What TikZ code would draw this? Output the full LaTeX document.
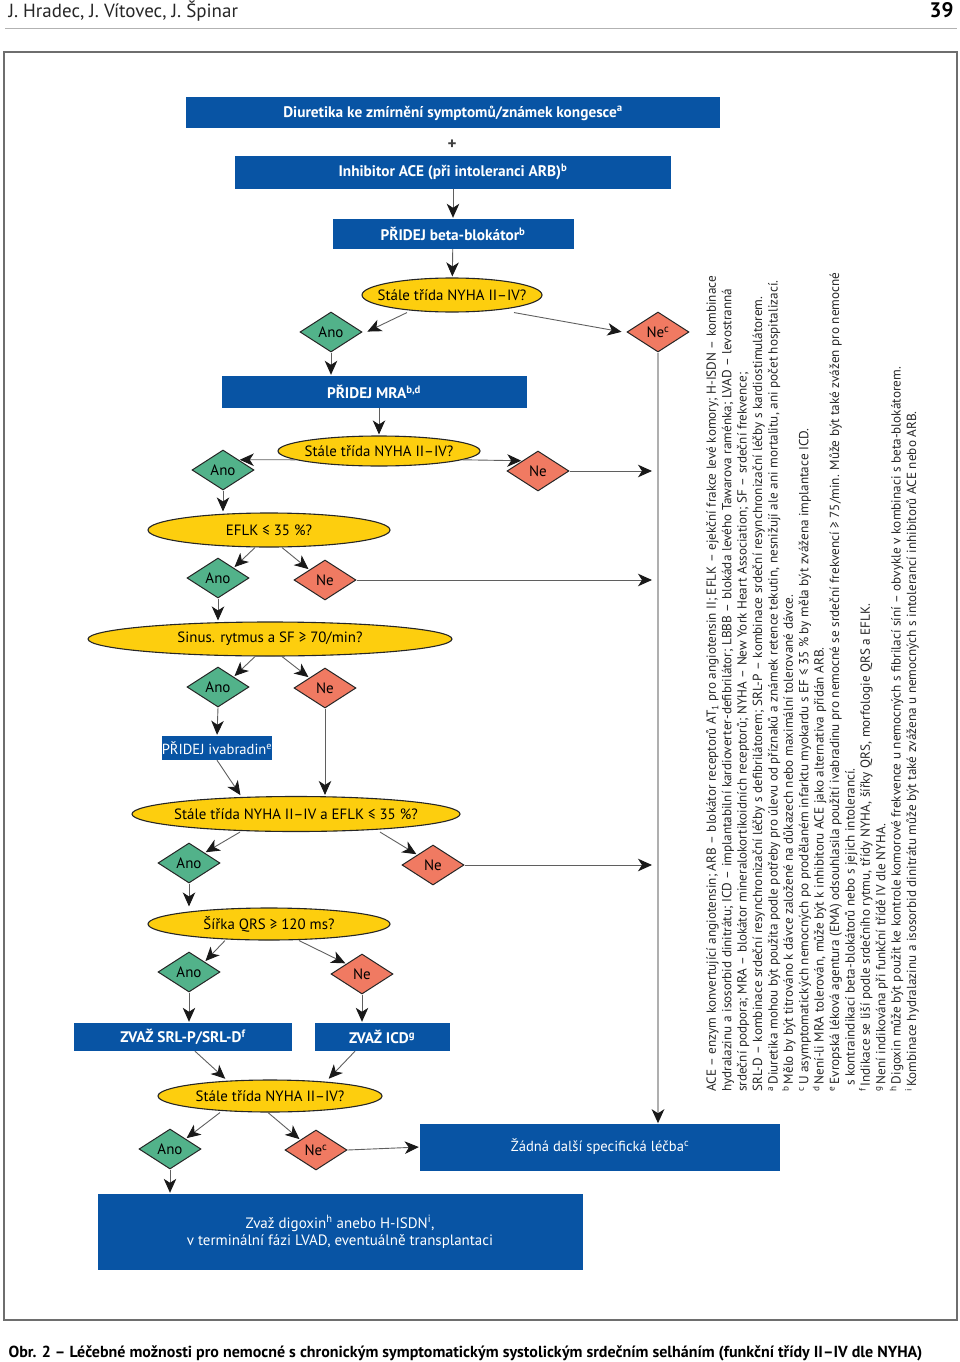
\documentclass[tikz,border=0pt]{standalone}
\usepackage{fontspec}
\setmainfont{PT Sans}
\usetikzlibrary{shapes.geometric,arrows.meta}
\definecolor{boxblue}{RGB}{8,84,164}
\definecolor{askyellow}{RGB}{253,206,14}
\definecolor{anogreen}{RGB}{82,178,138}
\definecolor{nered}{RGB}{240,122,98}
\definecolor{linegray}{RGB}{95,95,95}
\definecolor{railgray}{RGB}{175,175,175}
\definecolor{framegray}{RGB}{110,110,110}

\begin{document}
\begin{tikzpicture}[x=1pt, y=-1pt,
    box/.style={rectangle, fill=boxblue, text=white, inner sep=0pt, font=\fontsize{15.3}{17}\selectfont\bfseries},
    boxlight/.style={box, font=\fontsize{14.6}{17.5}\selectfont},
    ask/.style={ellipse, draw=black!85, line width=1.1pt, fill=askyellow, inner xsep=-40pt, inner ysep=0pt, font=\fontsize{14.9}{17}\selectfont},
    anodia/.style={diamond, draw=black!85, line width=1pt, fill=anogreen, minimum width=62pt, minimum height=40pt, inner sep=0pt, font=\fontsize{15}{17}\selectfont},
    nedia/.style={anodia, fill=nered},
    msg/.style={-{Stealth[length=14pt,width=12.5pt,inset=4pt,color=black!90]}, draw=linegray, line width=0.9pt, shorten >=1pt},
  ]
    \useasboundingbox (0,0) rectangle (960,1362);

    % Page head
    \node[anchor=base west, font=\fontsize{19}{22}\selectfont, text=black!85] (auth) at (5,18) {J. Hradec, J. Vítovec, J. Špinar};
    \node[anchor=base east, font=\fontsize{21}{23}\selectfont\bfseries] (page) at (957,18) {39};
    \draw[gray!60, line width=0.8pt] (5,28) -- (957,28);
    \draw[framegray, line width=1.2pt] (4,52) rectangle (957,1320);

    % Basic therapy
    \node[box, minimum width=534pt, minimum height=31pt] (diur) at (453,113) {Diuretika ke zmírnění symptomů/známek kongesce\textsuperscript{a}};
    \node[font=\fontsize{17}{18}\selectfont\bfseries, text=black!75] (plus) at (452,145) {+};
    \node[box, minimum width=436pt, minimum height=33pt] (acei) at (453,172) {Inhibitor ACE (při intoleranci ARB)\textsuperscript{b}};
    \node[box, minimum width=241pt, minimum height=30pt] (beta) at (453,234) {PŘIDEJ beta-blokátor\textsuperscript{b}};
    \draw[msg] (acei) -- (beta);

    % Question 1
    \node[ask, minimum width=180pt, minimum height=34pt] (q1) at (452,295) {Stále třída NYHA II–IV?};
    \node[anodia] (a1) at (331,332) {Ano};
    \node[nedia] (n1) at (658,332) {Ne\textsuperscript{c}};
    \draw[msg] (beta) -- (q1);
    \draw[msg] ([xshift=-45pt]q1.south) -- ([xshift=4pt]a1.east);
    \draw[msg] ([xshift=62pt]q1.south) -- ([xshift=-4pt]n1.west);

    % MRA
    \node[box, minimum width=305pt, minimum height=32pt] (mra) at (374,392) {PŘIDEJ MRA\textsuperscript{b,d}};
    \draw[msg] (a1.south) -- (a1.south |- mra.north);
    \node[ask, minimum width=202pt, minimum height=30pt] (q2) at (379,451) {Stále třída NYHA II–IV?};
    \draw[msg] (q2.north |- mra.south) -- (q2.north);
    \node[anodia] (a2) at (223,470) {Ano};
    \node[nedia] (n2) at (538,471) {Ne};
    \draw[msg] (q2.186) -- (a2.north east);
    \draw[msg] (q2.354) -- (n2.north west);

    % EFLK
    \node[ask, minimum width=242pt, minimum height=34pt] (q3) at (269,530) {EFLK ≤ 35 \%?};
    \draw[msg] (a2.south) -- (a2.south |- q3.north);
    \node[anodia] (a3) at (218,578) {Ano};
    \node[nedia] (n3) at (325,580) {Ne};
    \draw[msg] ([xshift=-14pt]q3.south) -- (a3.north east);
    \draw[msg] ([xshift=13pt]q3.south) -- (n3.north west);

    % Sinus rhythm
    \node[ask, minimum width=364pt, minimum height=34pt] (q4) at (270,639) {Sinus. rytmus a SF ≥ 70/min?};
    \draw[msg] (a3.south) -- (a3.south |- q4.north);
    \node[anodia] (a4) at (218,687) {Ano};
    \node[nedia] (n4) at (325,688) {Ne};
    \draw[msg] ([xshift=-15pt]q4.south) -- (a4.north east);
    \draw[msg] ([xshift=12pt]q4.south) -- (n4.north west);
    \node[boxlight, minimum width=110pt, minimum height=24pt] (ivab) at (217,748) {PŘIDEJ ivabradin\textsuperscript{e}};
    \draw[msg] (a4.south) -- (ivab.north);

    % NYHA and EFLK
    \node[ask, minimum width=328pt, minimum height=35pt] (q5) at (296,814) {Stále třída NYHA II–IV a EFLK ≤ 35 \%?};
    \draw[msg] (ivab.south) -- ([xshift=-55pt]q5.north);
    \draw[msg] (n4.south) -- (n4.south |- q5.north);
    \node[anodia] (a5) at (189,863) {Ano};
    \node[nedia] (n5) at (433,865) {Ne};
    \draw[msg] ([xshift=-56pt]q5.south) -- (a5.north east);
    \draw[msg] ([xshift=84pt]q5.south) -- (n5.north west);

    % QRS
    \node[ask, minimum width=242pt, minimum height=32pt] (q6) at (269,924) {Šířka QRS ≥ 120 ms?};
    \draw[msg] (a5.south) -- (a5.south |- q6.north);
    \node[anodia] (a6) at (189,972) {Ano};
    \node[nedia] (n6) at (362,974) {Ne};
    \draw[msg] ([xshift=-44pt]q6.south) -- (a6.north east);
    \draw[msg] ([xshift=30pt]q6.south) -- (n6.north west);
    \node[box, minimum width=218pt, minimum height=28pt] (crt) at (183,1037) {ZVAŽ SRL-P/SRL-D\textsuperscript{f}};
    \node[box, minimum width=135pt, minimum height=28pt] (icd) at (382,1037) {ZVAŽ ICD\textsuperscript{g}};
    \draw[msg] (a6.south) -- (a6.south |- crt.north);
    \draw[msg] (n6.south) -- (n6.south |- icd.north);

    % Question after devices
    \node[ask, minimum width=224pt, minimum height=32pt] (q7) at (270,1096) {Stále třída NYHA II–IV?};
    \draw[msg] ([xshift=12pt]crt.south) -- ([xshift=-44pt]q7.north);
    \draw[msg] ([xshift=-27pt]icd.south) -- ([xshift=58pt]q7.north);
    \node[anodia] (a7) at (170,1149) {Ano};
    \node[nedia] (n7) at (316,1150) {Ne\textsuperscript{c}};
    \draw[msg] ([xshift=-50pt]q7.south) -- (a7.north east);
    \draw[msg] ([xshift=-2pt]q7.south) -- (n7.north west);

    % End boxes
    \node[boxlight, minimum width=360pt, minimum height=47pt] (none) at (600,1147) {Žádná další specifická léčba\textsuperscript{c}};
    \node[boxlight, minimum width=485pt, minimum height=76pt, align=center, font=\fontsize{15}{17.5}\selectfont] (digo) at (340,1232) {Zvaž digoxin\textsuperscript{h} anebo H-ISDN\textsuperscript{i},\\v terminální fázi LVAD, eventuálně transplantaci};
    \draw[msg] (a7.south) -- (a7.south |- digo.north);
    \draw[msg] (n7.east) -- (none.west);

    % Rail of the Ne branches
    \draw[-{Stealth[length=14pt,width=12.5pt,inset=4pt,color=black!90]}, draw=railgray, line width=2.4pt] (n1.south) -- (n1.south |- none.north);
    \draw[msg] (n2.east) -- ([xshift=-5pt]n2.east -| n1.south);
    \draw[msg] (n3.east) -- ([xshift=-5pt]n3.east -| n1.south);
    \draw[msg] (n5.east) -- ([xshift=-5pt]n5.east -| n1.south);

    % Footnotes
    \node[rotate=90, anchor=north west, align=left, inner sep=0pt, text=black!85, font=\fontsize{13.2}{15.4}\selectfont] (notes) at (706,1092) {%
      ACE – enzym konvertující angiotensin; ARB – blokátor receptorů AT\textsubscript{1} pro angiotensin II; EFLK – ejekční frakce levé komory; H-ISDN – kombinace\\
      hydralazinu a isosorbid dinitrátu; ICD – implantabilní kardioverter-defibrilátor; LBBB – blokáda levého Tawarova raménka; LVAD – levostranná\\
      srdeční podpora; MRA – blokátor mineralokortikoidních receptorů; NYHA – New York Heart Association; SF – srdeční frekvence;\\
      SRL-D – kombinace srdeční resynchronizační léčby s defibrilátorem; SRL-P – kombinace srdeční resynchronizační léčby s kardiostimulátorem.\\
      \textsuperscript{a}\,Diuretika mohou být použita podle potřeby pro úlevu od příznaků a známek retence tekutin, nesnižují ale ani mortalitu, ani počet hospitalizací.\\
      \textsuperscript{b}\,Mělo by být titrováno k dávce založené na důkazech nebo maximální tolerované dávce.\\
      \textsuperscript{c}\,U asymptomatických nemocných po prodělaném infarktu myokardu s EF ≤ 35 \% by měla být zvážena implantace ICD.\\
      \textsuperscript{d}\,Není-li MRA tolerován, může být k inhibitoru ACE jako alternativa přidán ARB.\\
      \textsuperscript{e}\,Evropská léková agentura (EMA) odsouhlasila použití ivabradinu pro nemocné se srdeční frekvencí ≥ 75/min. Může být také zvážen pro nemocné\\
      \hspace*{6pt}s kontraindikací beta-blokátorů nebo s jejich intolerancí.\\
      \textsuperscript{f}\,Indikace se liší podle srdečního rytmu, třídy NYHA, šířky QRS, morfologie QRS a EFLK.\\
      \textsuperscript{g}\,Není indikována při funkční třídě IV dle NYHA.\\
      \textsuperscript{h}\,Digoxin může být použit ke kontrole komorové frekvence u nemocných s fibrilací síní – obvykle v kombinaci s beta-blokátorem.\\
      \textsuperscript{i}\,Kombinace hydralazinu a isosorbid dinitrátu může být také zvážena u nemocných s intolerancí inhibitorů ACE nebo ARB.};

    % Caption
    \node[anchor=base west, font=\fontsize{16}{18}\selectfont\bfseries] (cap) at (5,1357) {Obr. 2 – Léčebné možnosti pro nemocné s chronickým symptomatickým systolickým srdečním selháním (funkční třídy II–IV dle NYHA)};
\end{tikzpicture}
\end{document}
